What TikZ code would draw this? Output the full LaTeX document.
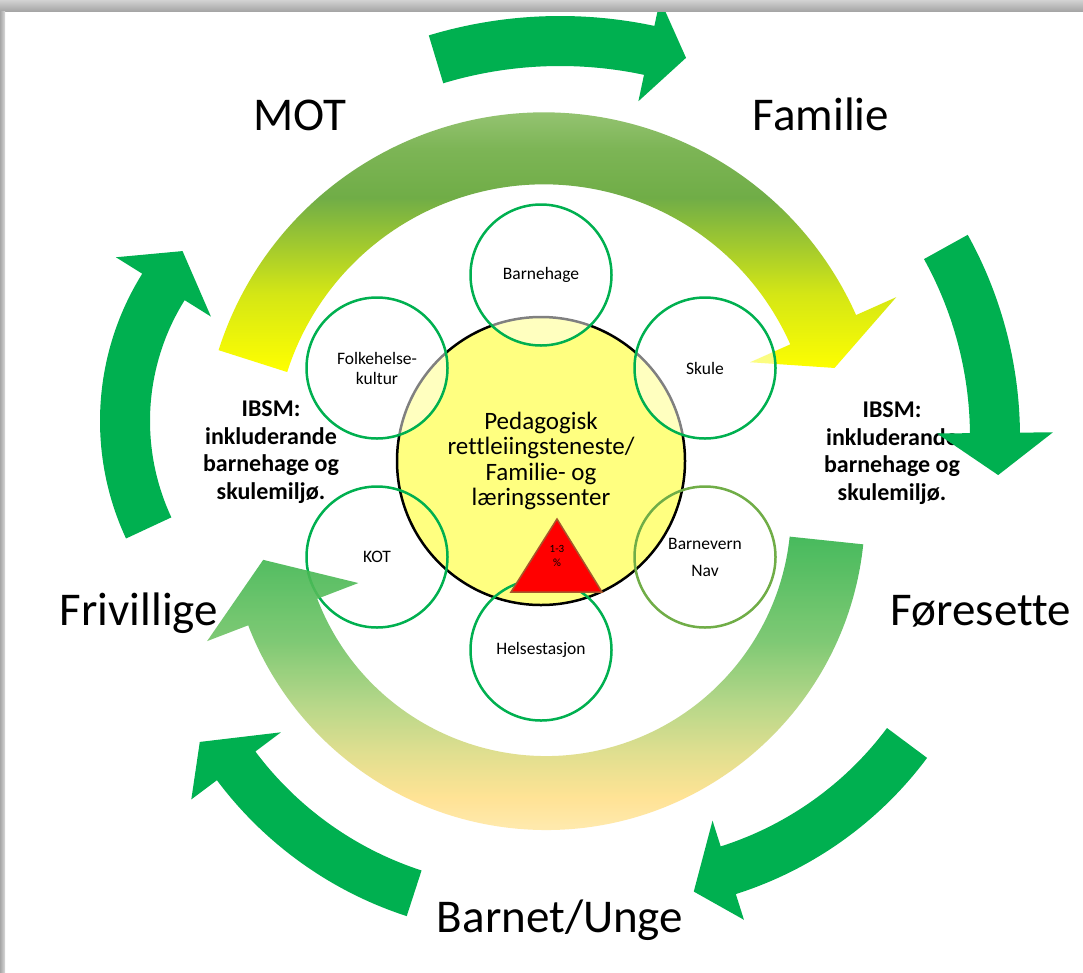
\documentclass[tikz,border=0pt]{standalone}
\usepackage{fontspec}
\setmainfont{Carlito}[Ligatures=NoCommon]
\usepackage{tikz}
\usetikzlibrary{positioning}

\definecolor{ringgreen}{HTML}{00B050}
\definecolor{navgreen}{HTML}{70AD47}
\definecolor{lightgreen}{HTML}{AED38F}
\definecolor{midgreen}{HTML}{70AD47}
\definecolor{centreyellow}{HTML}{FFFF80}
\definecolor{tribrown}{HTML}{A5562B}
\definecolor{fadeA}{HTML}{FFECB4}
\definecolor{fadeB}{HTML}{FFE08A}
\definecolor{fadeC}{HTML}{DEDC84}
\definecolor{fadeD}{HTML}{AFD37D}
\definecolor{fadeE}{HTML}{72C466}
\definecolor{fadeF}{HTML}{34B34C}

\pgfdeclareverticalshading{topfade}{100bp}{color(0bp)=(yellow); color(25bp)=(yellow); color(38bp)=(yellow!70!midgreen);
  color(54bp)=(midgreen); color(62bp)=(midgreen!80!lightgreen); color(75bp)=(lightgreen); color(100bp)=(lightgreen)}
\pgfdeclareverticalshading{bottomfade}{100bp}{color(0bp)=(fadeA); color(25bp)=(fadeA); color(33bp)=(fadeB); color(40bp)=(fadeC);
  color(48bp)=(fadeD); color(58bp)=(fadeE); color(75bp)=(fadeF); color(100bp)=(fadeF)}

% bent arrow round a centre: style, centre, radius, half width,
% tail angle, head angle, tip angle, tip radius, head half width
\newcommand{\ringarrow}[9]{%
  \path[#1] ([shift={#2}]#5:{#3+#4}) arc[start angle=#5, end angle=#6, radius=#3+#4]
    -- ([shift={#2}]#6:{#3+#9}) -- ([shift={#2}]#7:{#8}) -- ([shift={#2}]#6:{#3-#9})
    -- ([shift={#2}]#6:{#3-#4}) arc[start angle=#6, end angle=#5, radius=#3-#4] -- cycle;}

\begin{document}
\begin{tikzpicture}[x=1pt, y=1pt]
            \tikzset{ring/.style = {fill=ringgreen}}
            \tikzset{unit/.style = {circle, draw=ringgreen, line width=2.5pt, minimum size=141pt, inner sep=0pt, align=center, font=\fontsize{17.5}{20}\selectfont}}
            \tikzset{bigword/.style = {font=\fontsize{47}{56}\selectfont, anchor=base}}
            \tikzset{ibsm/.style = {align=center, font=\fontsize{24}{27.7}\selectfont\bfseries}}

            \useasboundingbox (0,0) rectangle (1083,-972);
            \fill[white] (0,0) rectangle (1083,-972);

            % outer arrows
            \ringarrow{ring}{(560,-470)}{429}{25}{106.8}{78}{73}{431}{52}
            \ringarrow{ring}{(620,-529)}{358}{25}{-36.7}{-72.4}{-78.5}{370}{52}
            \ringarrow{ring}{(526,-549)}{362}{24}{252}{216.8}{210.6}{379}{56}
            \ringarrow{ring}{(378,-421)}{253}{25}{205}{148}{139}{259}{56}

            % top inner arrow
            \ringarrow{shade, shading=topfade}{(544,-454)}{305.6}{36}{162.3}{24}{16.5}{303}{80}

            % centre
            \node[circle, draw=black, line width=2.5pt, fill=centreyellow, minimum size=288pt, inner sep=0pt, align=center,
                  font=\fontsize{25}{25.5}\selectfont] (centre) at (541,-461)
                  {Pedagogisk\\ rettleiingsteneste/\\ Familie- og\\ læringssenter};

            % services
            \node[unit, fill=white, fill opacity=0.5, text opacity=1] (barnehage) at (541,-275) {Barnehage};
            \node[unit, fill=white, fill opacity=0.5, text opacity=1] (skule) at (705,-368) {Skule};
            \node[unit, fill=white, fill opacity=0.5, text opacity=1] (folkehelse) at (377,-368) {Folkehelse-\\kultur};
            \node[unit, draw=navgreen] (barnevern) at (705,-557) {Barnevern\\[7pt]Nav};
            \node[unit] (helse) at (541,-650) {Helsestasjon};
            \node[unit] (kot) at (377,-557) {KOT};

            % bottom inner arrow
            \ringarrow{shade, shading=bottomfade, opacity=0.9}{(546,-511)}{282}{37}{-6}{-159}{-170.2}{287}{81}

            % share
            \coordinate (t1) at (557,-519);
            \coordinate (t2) at (602,-592);
            \coordinate (t3) at (511,-592);
            \draw[fill=red, draw=tribrown, line width=1.5pt, line join=miter] (t1) -- (t2) -- (t3) -- cycle;
            \node[align=center, font=\fontsize{11}{14}\selectfont, inner sep=0pt] (share) at (557,-556) {1-3\\\%};

            % labels
            \node[bigword] (mot) at (300,-130) {MOT};
            \node[bigword] (familie) at (821,-130) {Familie};
            \node[bigword] (foresette) at (981,-625) {Føresette};
            \node[bigword] (frivillige) at (139,-625) {Frivillige};
            \node[bigword] (barnet) at (560,-932) {Barnet/Unge};

            \node[ibsm] (ibsmleft) at (271,-452) {IBSM:\\ inkluderande\\ barnehage og\\ skulemiljø.};
            \node[ibsm] (ibsmright) at (892,-453) {IBSM:\\ inkluderande\\ barnehage og\\ skulemiljø.};

            % right arrow over the text
            \ringarrow{ring}{(603,-437)}{392}{25}{29}{0.6}{-5.5}{397}{58}

            % shadow of the frame
            \shade[top color=gray!35, bottom color=gray!70] (0,0) rectangle (1083,-11);
            \shade[left color=gray!70, right color=gray!30] (0,-11) rectangle (5,-972);
\end{tikzpicture}
\end{document}
